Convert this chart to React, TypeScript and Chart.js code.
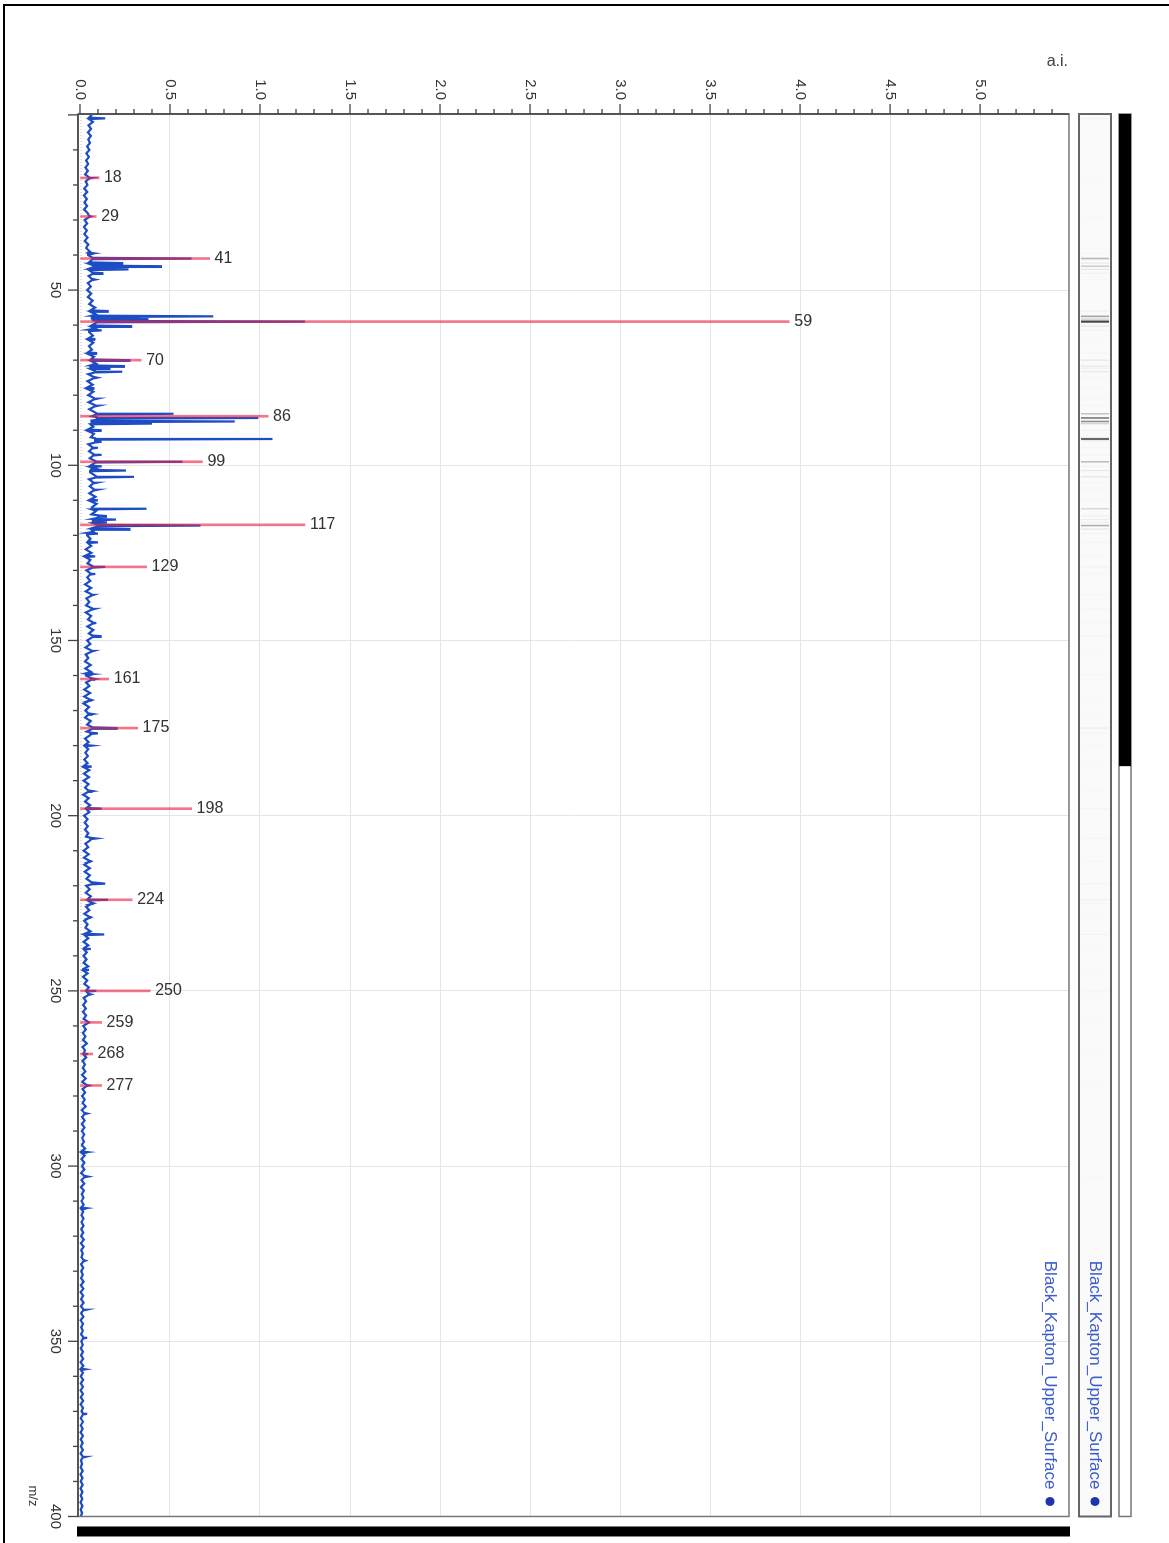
import React, { useEffect, useRef } from 'react';
import { Chart, registerables } from 'chart.js';

Chart.register(...registerables);

const FONT = '"Liberation Sans", Arial, Helvetica, sans-serif';

const SAMPLE_NAME = 'Black_Kapton_Upper_Surface';
const MZ_TITLE = 'm/z';
const INTENSITY_TITLE = 'a.i.';

const MZ_TICKS = [50, 100, 150, 200, 250, 300, 350, 400];
const INTENSITY_TICKS = [0, 0.5, 1, 1.5, 2, 2.5, 3, 3.5, 4, 4.5, 5];

// Profile baseline, one value per integer m/z from 0 to 400
const BASELINE = [
  0.066, 0.05, 0.072, 0.048, 0.062, 0.044, 0.06, 0.046, 0.056, 0.04,
  0.052, 0.036, 0.05, 0.034, 0.046, 0.03, 0.044, 0.028, 0.05, 0.032,
  0.042, 0.024, 0.04, 0.022, 0.038, 0.024, 0.04, 0.023, 0.042, 0.05,
  0.026, 0.04, 0.022, 0.038, 0.024, 0.042, 0.026, 0.046, 0.034, 0.055,
  0.045, 0.07, 0.05, 0.078, 0.05, 0.07, 0.048, 0.066, 0.044, 0.06,
  0.04, 0.062, 0.044, 0.07, 0.052, 0.084, 0.058, 0.09, 0.066, 0.095,
  0.064, 0.085, 0.05, 0.072, 0.046, 0.074, 0.05, 0.066, 0.044, 0.078,
  0.06, 0.09, 0.058, 0.084, 0.046, 0.076, 0.042, 0.07, 0.04, 0.074,
  0.046, 0.078, 0.048, 0.082, 0.052, 0.09, 0.066, 0.094, 0.058, 0.074,
  0.044, 0.078, 0.06, 0.084, 0.046, 0.068, 0.05, 0.074, 0.054, 0.086,
  0.058, 0.09, 0.056, 0.088, 0.05, 0.072, 0.054, 0.076, 0.052, 0.086,
  0.056, 0.092, 0.066, 0.09, 0.064, 0.1, 0.072, 0.1, 0.064, 0.076,
  0.04, 0.058, 0.044, 0.062, 0.032, 0.064, 0.03, 0.058, 0.042, 0.07,
  0.036, 0.056, 0.04, 0.058, 0.028, 0.062, 0.032, 0.064, 0.036, 0.052,
  0.034, 0.066, 0.032, 0.062, 0.044, 0.07, 0.042, 0.074, 0.05, 0.07,
  0.04, 0.058, 0.03, 0.062, 0.032, 0.046, 0.028, 0.06, 0.03, 0.062,
  0.032, 0.064, 0.034, 0.052, 0.024, 0.056, 0.024, 0.052, 0.02, 0.05,
  0.03, 0.046, 0.028, 0.06, 0.04, 0.07, 0.038, 0.058, 0.028, 0.048,
  0.028, 0.046, 0.03, 0.044, 0.024, 0.042, 0.022, 0.052, 0.022, 0.05,
  0.02, 0.048, 0.028, 0.046, 0.018, 0.048, 0.028, 0.056, 0.036, 0.052,
  0.022, 0.042, 0.026, 0.044, 0.028, 0.046, 0.034, 0.058, 0.03, 0.046,
  0.02, 0.048, 0.022, 0.05, 0.024, 0.054, 0.026, 0.055, 0.036, 0.064,
  0.034, 0.054, 0.032, 0.06, 0.044, 0.062, 0.034, 0.052, 0.024, 0.05,
  0.024, 0.042, 0.03, 0.058, 0.026, 0.046, 0.02, 0.046, 0.022, 0.038,
  0.02, 0.036, 0.02, 0.046, 0.018, 0.042, 0.017, 0.04, 0.024, 0.05,
  0.036, 0.046, 0.02, 0.034, 0.018, 0.032, 0.016, 0.034, 0.02, 0.044,
  0.018, 0.032, 0.016, 0.03, 0.017, 0.038, 0.014, 0.028, 0.02, 0.034,
  0.014, 0.028, 0.016, 0.03, 0.011, 0.032, 0.012, 0.036, 0.014, 0.028,
  0.012, 0.026, 0.014, 0.032, 0.01, 0.024, 0.012, 0.026, 0.011, 0.024,
  0.01, 0.024, 0.012, 0.022, 0.01, 0.028, 0.008, 0.026, 0.008, 0.024,
  0.012, 0.024, 0.006, 0.024, 0.008, 0.024, 0.005, 0.022, 0.01, 0.02,
  0.008, 0.02, 0.007, 0.018, 0.009, 0.02, 0.008, 0.019, 0.007, 0.018,
  0.006, 0.021, 0.005, 0.02, 0.007, 0.016, 0.008, 0.019, 0.006, 0.018,
  0.007, 0.016, 0.006, 0.02, 0.005, 0.019, 0.004, 0.018, 0.006, 0.02,
  0.005, 0.018, 0.006, 0.019, 0.004, 0.017, 0.007, 0.016, 0.006, 0.018,
  0.007, 0.016, 0.005, 0.017, 0.006, 0.018, 0.004, 0.019, 0.005, 0.016,
  0.004, 0.018, 0.005, 0.017, 0.003, 0.016, 0.005, 0.018, 0.004, 0.017,
  0.008, 0.016, 0.004, 0.017, 0.004, 0.015, 0.003, 0.017, 0.005, 0.015,
  0.004, 0.016, 0.003, 0.015, 0.005, 0.012, 0.004, 0.015, 0.003, 0.014,
  0.004, 0.015, 0.003, 0.014, 0.004, 0.013, 0.003, 0.014, 0.004, 0.012,
  0.005,
];

// Narrow profile peaks: m/z of apex and apex intensity
const PROFILE_PEAK_MZ = [
  1, 18, 29, 39.5, 41, 42.3, 43.2, 44.1, 45.2, 47,
  56, 57.5, 58.3, 59, 60.3, 61.5, 64, 68, 70, 71.7,
  72.3, 73.3, 75, 78, 81, 83, 85.3, 86.5, 87.5, 88.1,
  90, 92.5, 93.3, 95, 97, 99, 100.3, 101.5, 103.3, 105,
  107, 110, 112.4, 114.5, 115.5, 116.3, 117.2, 118.2, 119.5, 122,
  126, 129, 131, 137, 141, 145, 148.8, 153, 159.6, 161,
  167, 171, 175, 176.5, 180, 186, 193, 198, 206.5, 213,
  219.4, 224, 225, 229, 233.9, 238, 244, 250, 251, 259,
  268, 277, 285, 296, 303, 312, 327, 341, 349, 358,
  370.7, 383,
];
const PROFILE_PEAK_INT = [
  0.14, 0.065, 0.06, 0.075, 0.62, 0.24, 0.455, 0.27, 0.13, 0.085,
  0.16, 0.74, 0.38, 1.25, 0.29, 0.12, 0.085, 0.095, 0.28, 0.25,
  0.17, 0.235, 0.095, 0.08, 0.095, 0.1, 0.52, 0.99, 0.86, 0.4,
  0.12, 1.07, 0.12, 0.1, 0.12, 0.57, 0.12, 0.255, 0.3, 0.09,
  0.095, 0.1, 0.37, 0.15, 0.2, 0.15, 0.67, 0.28, 0.1, 0.1,
  0.085, 0.14, 0.085, 0.075, 0.08, 0.09, 0.12, 0.075, 0.07, 0.085,
  0.065, 0.07, 0.21, 0.1, 0.065, 0.065, 0.07, 0.12, 0.09, 0.06,
  0.14, 0.155, 0.075, 0.06, 0.135, 0.06, 0.05, 0.09, 0.06, 0.05,
  0.045, 0.05, 0.04, 0.04, 0.045, 0.035, 0.03, 0.035, 0.04, 0.03,
  0.04, 0.03,
];

// Centroided, labelled peaks
const PEAK_MZ = [18, 29, 41, 59, 70, 86, 99, 117, 129, 161, 175, 198, 224, 250, 259, 268, 277];
const PEAK_INT = [0.105, 0.09, 0.72, 3.94, 0.34, 1.045, 0.68, 1.25, 0.37, 0.16, 0.32, 0.62, 0.29, 0.39, 0.12, 0.07, 0.12];

const PROFILE_COLOR = '#1d4cc4';
const PEAK_COLOR = 'rgba(232, 34, 66, 0.62)';
const LABEL_COLOR = '#333333';
const LEGEND_TEXT = '#3a5ccc';
const LEGEND_DOT = '#1f36a8';

function buildProfile() {
  const pts: { x: number; y: number }[] = [];
  BASELINE.forEach((v, i) => {
    if (PROFILE_PEAK_MZ.some((m) => Math.abs(m - i) < 0.3)) return;
    pts.push({ x: i, y: v });
  });
  PROFILE_PEAK_MZ.forEach((m, k) => {
    const base = BASELINE[Math.round(m)];
    pts.push({ x: m - 0.2, y: base }, { x: m, y: PROFILE_PEAK_INT[k] }, { x: m + 0.2, y: base });
  });
  pts.sort((a, b) => a.x - b.x);
  return pts;
}

function line(ctx: CanvasRenderingContext2D, x1: number, y1: number, x2: number, y2: number) {
  ctx.beginPath();
  ctx.moveTo(x1, y1);
  ctx.lineTo(x2, y2);
  ctx.stroke();
}

const decorations = {
  id: 'spectrumDecorations',
  beforeDatasetsDraw(chart: any) {
    const { ctx, chartArea } = chart;
    const ys = chart.scales.y;
    const y0 = ys.getPixelForValue(0) - 1;
    ctx.save();
    ctx.strokeStyle = '#c4c4c4';
    ctx.lineWidth = 1;
    ctx.setLineDash([1, 2]);
    line(ctx, chartArea.left, y0, chartArea.right, y0);
    ctx.restore();
  },
  afterDraw(chart: any) {
    const { ctx, chartArea } = chart;
    const { left, right, top, bottom } = chartArea;
    const xs = chart.scales.x;
    const ys = chart.scales.y;
    ctx.save();

    // plot frame
    ctx.strokeStyle = '#777';
    ctx.lineWidth = 1.5;
    ctx.strokeRect(left, top, right - left, bottom - top);
    ctx.strokeStyle = '#555';
    ctx.lineWidth = 2;
    line(ctx, left, bottom, right, bottom);
    line(ctx, left, top, left, bottom);

    // m/z ticks: major every 50, minor every 10
    ctx.strokeStyle = '#444';
    ctx.lineWidth = 1.3;
    for (let v = 0; v <= 400; v += 10) {
      const px = xs.getPixelForValue(v);
      const len = v % 50 === 0 ? 10 : 5;
      line(ctx, px, bottom, px, bottom + len);
    }
    // intensity ticks: major every 0.5, minor every 0.1
    for (let i = 0; i <= 54; i++) {
      const py = ys.getPixelForValue(i / 10);
      const len = i % 5 === 0 ? 10 : 5;
      line(ctx, left - len, py, left, py);
    }

    // peak labels (kept upright on the turned page)
    ctx.fillStyle = LABEL_COLOR;
    ctx.font = `16px ${FONT}`;
    ctx.textAlign = 'left';
    ctx.textBaseline = 'middle';
    PEAK_MZ.forEach((m, i) => {
      const px = xs.getPixelForValue(m);
      const py = ys.getPixelForValue(PEAK_INT[i]);
      ctx.save();
      ctx.translate(px, py - 5);
      ctx.rotate(-Math.PI / 2);
      ctx.fillText(String(m), 0, 0);
      ctx.restore();
    });

    // axis titles
    ctx.save();
    ctx.font = `16px ${FONT}`;
    ctx.fillStyle = '#444';
    ctx.translate(left - 52, top + 1);
    ctx.rotate(-Math.PI / 2);
    ctx.textAlign = 'right';
    ctx.textBaseline = 'middle';
    ctx.fillText(INTENSITY_TITLE, 0, 0);
    ctx.restore();

    ctx.font = `13px ${FONT}`;
    ctx.fillStyle = '#333';
    ctx.textAlign = 'right';
    ctx.textBaseline = 'middle';
    ctx.fillText(MZ_TITLE, right - 10, bottom + 45);

    // legend entry inside the plot
    const drawEntry = (y: number) => {
      ctx.font = `17px ${FONT}`;
      ctx.fillStyle = LEGEND_TEXT;
      ctx.textAlign = 'right';
      ctx.textBaseline = 'middle';
      ctx.fillText(SAMPLE_NAME, right - 27, y);
      ctx.fillStyle = LEGEND_DOT;
      ctx.beginPath();
      ctx.arc(right - 15, y, 4.5, 0, Math.PI * 2);
      ctx.fill();
    };
    drawEntry(top + 19);

    // gel-style strip of the profile peaks
    const gTop = top - 42;
    const gBot = top - 10;
    ctx.fillStyle = '#fafafa';
    ctx.fillRect(left, gTop, right - left, gBot - gTop);
    PROFILE_PEAK_MZ.forEach((m, k) => {
      const h = PROFILE_PEAK_INT[k];
      const t = Math.pow(Math.min(1, h / 1.3), 1.4);
      const g = Math.round(250 - 190 * t);
      ctx.strokeStyle = `rgb(${g},${g},${g})`;
      ctx.lineWidth = h > 1 ? 2.2 : h > 0.3 ? 1.6 : 1.1;
      const px = xs.getPixelForValue(m);
      line(ctx, px, gTop + 2, px, gBot - 2);
    });
    ctx.strokeStyle = '#666';
    ctx.lineWidth = 2;
    ctx.strokeRect(left, gTop, right - left, gBot - gTop);
    drawEntry((gTop + gBot) / 2);

    // overview scroll bar
    const sTop = top - 62;
    const sBot = top - 50;
    ctx.fillStyle = '#fff';
    ctx.fillRect(left, sTop, right - left, sBot - sTop);
    ctx.strokeStyle = '#777';
    ctx.lineWidth = 1.5;
    ctx.strokeRect(left, sTop, right - left, sBot - sTop);
    ctx.fillStyle = '#000';
    ctx.fillRect(left, sTop, (right - left) * 0.465, sBot - sTop);

    // zoom bar beside the m/z end
    ctx.fillStyle = '#000';
    ctx.fillRect(right + 10, top - 1, 10, bottom - top + 2);

    ctx.restore();
  },
};

export default function App() {
  const canvasRef = useRef<HTMLCanvasElement | null>(null);

  useEffect(() => {
    const canvas = canvasRef.current;
    if (!canvas) return;
    const tickFont = { family: FONT, size: 15 };
    const chart = new Chart(canvas, {
      type: 'bar',
      data: {
        datasets: [
          {
            type: 'bar',
            label: 'peaks',
            data: PEAK_MZ.map((m, i) => ({ x: m, y: PEAK_INT[i] })),
            backgroundColor: PEAK_COLOR,
            borderWidth: 0,
            barThickness: 2,
            grouped: false,
            order: 0,
          } as any,
          {
            type: 'line',
            label: SAMPLE_NAME,
            data: buildProfile(),
            borderColor: PROFILE_COLOR,
            borderWidth: 2.2,
            pointRadius: 0,
            tension: 0,
            fill: false,
            order: 1,
          } as any,
        ],
      },
      options: {
        responsive: false,
        animation: false,
        events: [],
        layout: { padding: { top: 100, right: 21, left: 0, bottom: 0 } },
        plugins: { legend: { display: false }, tooltip: { enabled: false } },
        scales: {
          x: {
            type: 'linear',
            min: -0.25,
            max: 400,
            offset: false,
            afterBuildTicks: (s: any) => {
              s.ticks = MZ_TICKS.map((v) => ({ value: v }));
            },
            afterFit: (s: any) => {
              s.height = 78;
            },
            ticks: {
              autoSkip: false,
              maxRotation: 0,
              padding: 14,
              color: '#333',
              font: tickFont,
              callback: (v: any) => String(v),
            },
            grid: { color: '#e5e5e5', lineWidth: 1, drawTicks: false, offset: false },
            border: { display: false },
          },
          y: {
            type: 'linear',
            min: -0.011,
            max: 5.494,
            afterBuildTicks: (s: any) => {
              s.ticks = INTENSITY_TICKS.map((v) => ({ value: v }));
            },
            afterFit: (s: any) => {
              s.width = 114;
            },
            ticks: {
              autoSkip: false,
              padding: 14,
              color: '#333',
              font: tickFont,
              callback: (v: any) => Number(v).toFixed(1),
            },
            grid: { color: (c: any) => (c.tick && c.tick.value === 0 ? 'rgba(0,0,0,0)' : '#e5e5e5'), lineWidth: 1, drawTicks: false },
            border: { display: false },
          },
        },
      } as any,
      plugins: [decorations],
    });
    return () => chart.destroy();
  }, []);

  return (
    <div style={{ position: 'absolute', left: 0, top: 0, width: 1169, height: 1543, overflow: 'hidden', background: '#fff' }}>
      <div
        style={{
          position: 'absolute',
          left: 3,
          top: 4,
          width: 1190,
          height: 1570,
          border: '2px solid #000',
          boxSizing: 'border-box',
        }}
      />
      <div
        style={{
          position: 'absolute',
          left: 0,
          top: 0,
          width: 1543,
          height: 1169,
          transformOrigin: '0 0',
          transform: 'translate(1169px, 0) rotate(90deg)',
        }}
      >
        <canvas ref={canvasRef} width={1543} height={1169} style={{ display: 'block' }} />
      </div>
    </div>
  );
}
